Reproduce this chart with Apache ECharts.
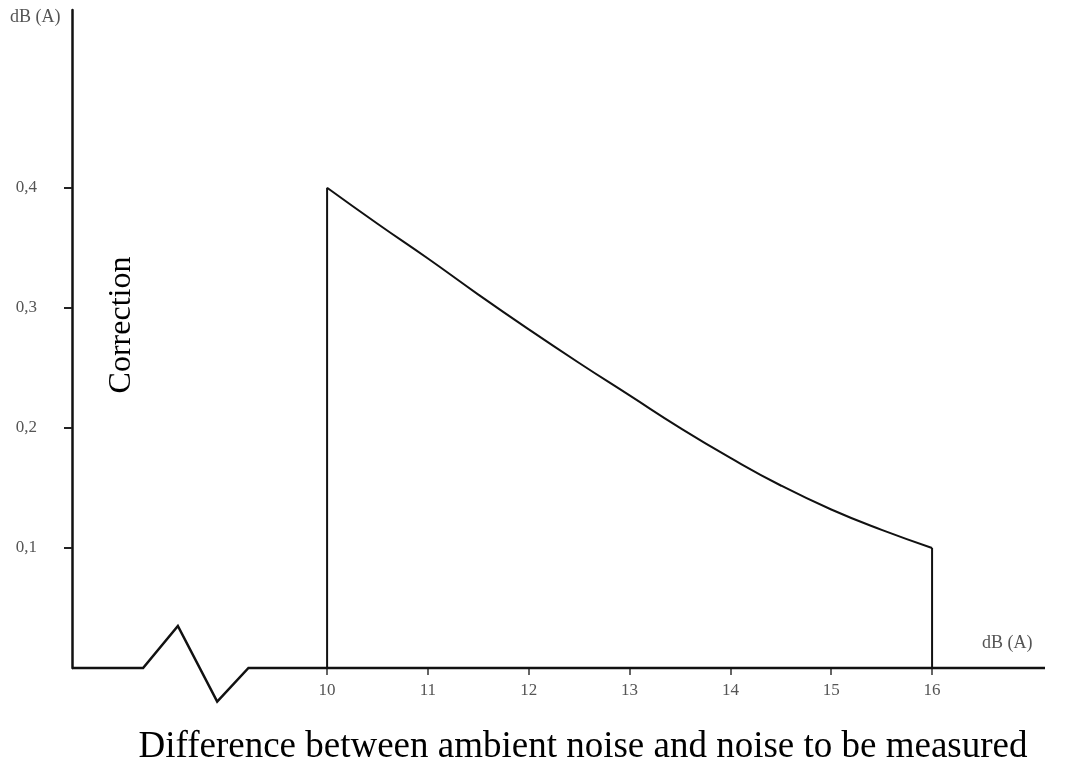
<!DOCTYPE html>
<html>
<head>
<meta charset="utf-8">
<script src="https://cdn.jsdelivr.net/npm/echarts@6/dist/echarts.min.js"></script>
<style>html,body{margin:0;padding:0;background:#fff}#c{width:1070px;height:767px}</style>
</head>
<body>
<div id="c"></div>
<script>
// Data
const diffX = [10, 10.5, 11, 11.5, 12, 12.5, 13, 13.5, 14, 14.5, 15, 15.5, 16];
const correction = [0.400, 0.370, 0.341, 0.311, 0.282, 0.254, 0.227, 0.200, 0.175, 0.152, 0.132, 0.115, 0.100];
const xTicks = [10, 11, 12, 13, 14, 15, 16];
const yTicks = [0.1, 0.2, 0.3, 0.4];
// axis baseline with break (zigzag) in data units
const baseX = [7.47, 8.175, 8.52, 8.91, 9.22, 17.12];
const baseY = [0, 0, 0.035, -0.028, 0, 0];

const curve = diffX.map((x, i) => [x, correction[i]]);
const leftEdge = [[diffX[0], 0], [diffX[0], correction[0]]];
const last = diffX.length - 1;
const rightEdge = [[diffX[last], correction[last]], [diffX[last], 0]];
const baseline = baseX.map((x, i) => [x, baseY[i]]);

const serif = '"Liberation Serif", "DejaVu Serif", serif';
const chart = echarts.init(document.getElementById('c'));
chart.setOption({
  animation: false,
  backgroundColor: '#fff',
  grid: { left: 72, right: 25, top: 10, bottom: 99, containLabel: false },
  xAxis: {
    type: 'value', min: 7.47, max: 17.12,
    axisLine: { show: false },
    splitLine: { show: false },
    axisTick: { show: true, customValues: xTicks, length: 7, lineStyle: { color: '#333', width: 1.5 } },
    axisLabel: { customValues: xTicks, margin: 14, color: '#555', fontFamily: serif, fontSize: 17 }
  },
  yAxis: {
    type: 'value', min: 0, max: 0.548,
    axisLine: { show: true, lineStyle: { color: '#111', width: 2.5 } },
    splitLine: { show: false },
    axisTick: { show: true, customValues: yTicks, length: 8, lineStyle: { color: '#222', width: 2 } },
    axisLabel: { customValues: yTicks, margin: 35, color: '#555', fontFamily: serif, fontSize: 17,
      formatter: v => v.toFixed(1).replace('.', ',') }
  },
  series: [
    { type: 'line', data: baseline, symbol: 'none', clip: false, silent: true,
      lineStyle: { color: '#111', width: 2.5, join: 'miter' } },
    { type: 'line', data: curve, symbol: 'none', smooth: 0.5,
      lineStyle: { color: '#111', width: 2 } },
    { type: 'line', data: leftEdge, symbol: 'none', lineStyle: { color: '#111', width: 2 } },
    { type: 'line', data: rightEdge, symbol: 'none', lineStyle: { color: '#111', width: 2 } }
  ],
  graphic: [
    { type: 'text', left: 10, top: 8, style: { text: 'dB (A)', fill: '#555', font: '18px ' + serif } },
    { type: 'text', left: 982, top: 634, style: { text: 'dB (A)', fill: '#555', font: '18px ' + serif } },
    { type: 'text', x: 122, y: 325, rotation: Math.PI / 2,
      style: { text: 'Correction', fill: '#000', font: '32px ' + serif, align: 'center', verticalAlign: 'middle' } },
    { type: 'text', x: 583, y: 747,
      style: { text: 'Difference between ambient noise and noise to be measured', fill: '#000',
        font: '37px ' + serif, align: 'center', verticalAlign: 'middle' } }
  ]
});
</script>
</body>
</html>
